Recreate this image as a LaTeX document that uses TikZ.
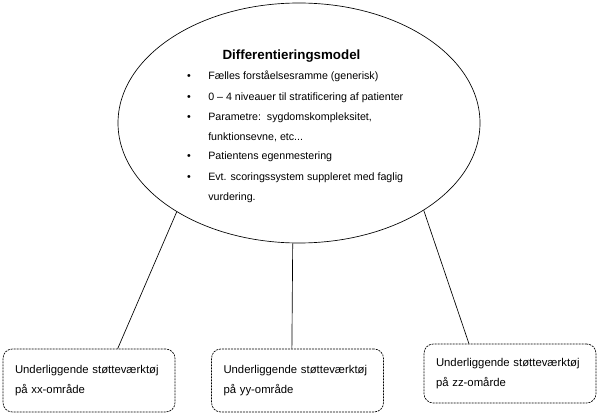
\documentclass[tikz,border=0pt]{standalone}
\usepackage{fontspec}
\setmainfont{Liberation Sans}
\usetikzlibrary{shapes.geometric,positioning}

\begin{document}
\begin{tikzpicture}[x=0.75pt,y=-0.75pt,
model/.style={draw,line width=0.5pt,ellipse,minimum width=271.5pt,minimum height=180pt,inner sep=0pt},
tool/.style={draw,line width=0.5pt,dash pattern=on 1.5pt off 0.75pt,rounded corners=7pt,align=left,text width=111pt,inner xsep=9pt,minimum height=47.25pt,font=\fontsize{8.5}{15}\selectfont},
item/.style={anchor=base west,inner sep=0pt,font=\fontsize{8}{10}\selectfont},
dot/.style={anchor=base,inner sep=0pt,font=\fontsize{8}{10}\selectfont},
link/.style={line width=0.5pt}]
\useasboundingbox (0,0) rectangle (599,416);
\node[model] (ell) at (299,123) {};
\node[anchor=base,inner sep=0pt,font=\bfseries] (title) at (291.5,59.3) {Differentieringsmodel};
\node[dot] (d1) at (189,80) {\textbullet};
\node[item] (i1) at (208,80) {Fælles forståelsesramme (generisk)};
\node[dot] (d2) at (189,100.7) {\textbullet};
\node[item] (i2) at (208,100.7) {0 – 4 niveauer til stratificering af patienter};
\node[dot] (d3) at (189,121) {\textbullet};
\node[item] (i3) at (208,121) {Parametre:\ \ sygdomskompleksitet,};
\node[item] (i3b) at (208,140.5) {funktionsevne, etc...};
\node[dot] (d4) at (189,159.5) {\textbullet};
\node[item] (i4) at (208,159.5) {Patientens egenmestering};
\node[dot] (d5) at (189,181) {\textbullet};
\node[item] (i5) at (208,181) {Evt. scoringssystem suppleret med faglig};
\node[item] (i5b) at (208,201) {vurdering.};
\node[tool] (xx) at (89,380.5) {Underliggende støtteværktøj\\på xx-område};
\node[tool] (yy) at (297.5,380.5) {Underliggende støtteværktøj\\på yy-område};
\node[tool,minimum height=44.25pt] (zz) at (510,373.5) {Underliggende støtteværktøj\\på zz-omårde};
\draw[link] (ell.216)--(xx.48);
\draw[link] (ell.267)--(yy.100);
\draw[link] (ell.325)--(zz.144);
\end{tikzpicture}
\end{document}
